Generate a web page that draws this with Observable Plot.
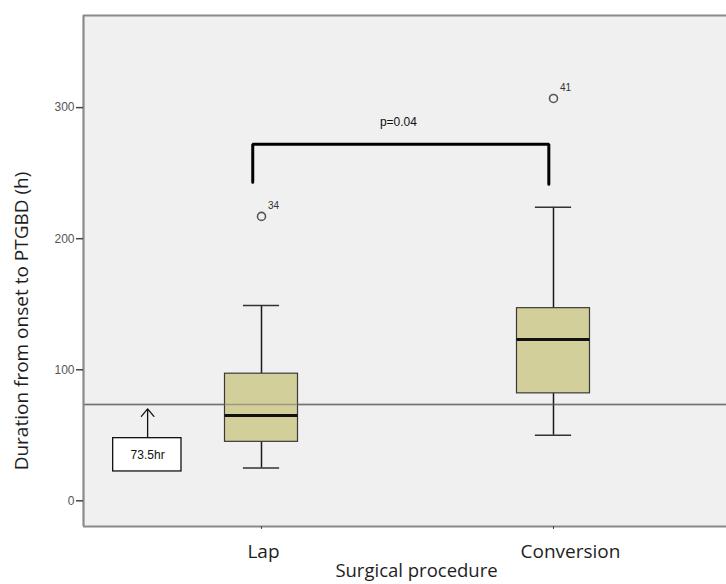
<!DOCTYPE html>
<html>
<head>
<meta charset="utf-8">
<script src="https://cdn.jsdelivr.net/npm/d3@7"></script>
<script src="https://cdn.jsdelivr.net/npm/@observablehq/plot@0.6"></script>
<style>
  html, body { margin: 0; padding: 0; background: #ffffff; }
  svg { display: block; }
</style>
</head>
<body>
<div id="chart"></div>
<script>
// ---- data ----
const categories = ["Lap", "Conversion"];
const whiskerLow = [25, 50];
const q1 = [45, 82];
const median = [65, 123];
const q3 = [97, 147];
const whiskerHigh = [149, 224];
const outlierValues = [217, 307];
const outlierIds = ["34", "41"];
const yTicks = [0, 100, 200, 300];
const thresholdValue = 73.5;
const thresholdLabel = "73.5hr";
const pLabel = "p=0.04";

// ---- table built from arrays ----
const boxes = categories.map((c, i) => ({
  cat: c, pos: i + 1,
  lo: whiskerLow[i], q1: q1[i], med: median[i], q3: q3[i], hi: whiskerHigh[i],
  out: outlierValues[i], id: outlierIds[i]
}));

const xDomain = [0.3904, 2.5925];
const yDomain = [-19.6, 370.3];
const boxHalf = 0.125;
const capHalf = 0.062;
const annX = 0.61;

const bracket = [
  {x: 0.97, y: 243}, {x: 0.97, y: 272}, {x: 1.984, y: 272}, {x: 1.984, y: 241.5}
];

const titleFont = "'Open Sans', sans-serif";
const tickFont = "'Liberation Sans', Arial, sans-serif";

const marks = [
  Plot.frame({fill: "#f0f0f0", stroke: "none"}),
  // threshold line
  Plot.ruleY([thresholdValue], {stroke: "#7a7a7a", strokeWidth: 1.6}),
  // whiskers
  Plot.ruleX(boxes, {x: "pos", y1: "lo", y2: "q1", stroke: "#1a1a1a", strokeWidth: 1.5}),
  Plot.ruleX(boxes, {x: "pos", y1: "q3", y2: "hi", stroke: "#1a1a1a", strokeWidth: 1.5}),
  Plot.ruleY(boxes, {y: "lo", x1: d => d.pos - capHalf, x2: d => d.pos + capHalf, stroke: "#333", strokeWidth: 1.6}),
  Plot.ruleY(boxes, {y: "hi", x1: d => d.pos - capHalf, x2: d => d.pos + capHalf, stroke: "#333", strokeWidth: 1.6}),
  // boxes
  Plot.rect(boxes, {x1: d => d.pos - boxHalf, x2: d => d.pos + boxHalf, y1: "q1", y2: "q3", fill: "#d3cf9a", stroke: "#3a3a3a", strokeWidth: 1.2}),
  Plot.ruleY(boxes, {y: "med", x1: d => d.pos - boxHalf, x2: d => d.pos + boxHalf, stroke: "#111", strokeWidth: 3}),
  // threshold line faintly visible over boxes
  Plot.ruleY([thresholdValue], {stroke: "#6e6e6e", strokeWidth: 1.4, strokeOpacity: 0.55}),
  // outliers
  Plot.dot(boxes, {x: "pos", y: "out", r: 4, stroke: "#555", strokeWidth: 1.6, fill: "#f0f0f0"}),
  Plot.text(boxes, {x: "pos", y: "out", text: "id", dx: 12, dy: -11, fontSize: 10, fill: "#333", fontFamily: tickFont}),
  // bracket + p value
  Plot.line(bracket, {x: "x", y: "y", stroke: "#000", strokeWidth: 3, strokeLinejoin: "miter"}),
  Plot.text([pLabel], {x: 1.469, y: 289, fontSize: 12, fill: "#111", fontFamily: tickFont}),
  // threshold annotation
  Plot.arrow([0], {x1: annX, y1: 47.8, x2: annX, y2: 70.2, stroke: "#111", strokeWidth: 1.3, headLength: 12, headAngle: 80}),
  Plot.rect([0], {x1: 0.492, x2: 0.726, y1: 22.4, y2: 47.8, fill: "#ffffff", stroke: "#111", strokeWidth: 1.3}),
  Plot.text([thresholdLabel], {x: annX, y: 35, fontSize: 12, fill: "#111", fontFamily: tickFont}),
  // frame borders (left, top, bottom)
  Plot.ruleX([xDomain[0]], {stroke: "#8a8a8a", strokeWidth: 2.2}),
  Plot.ruleY([yDomain[0], yDomain[1]], {stroke: "#8a8a8a", strokeWidth: 2.2}),
  // axes
  Plot.axisY({ticks: yTicks, tickSize: 7, tickPadding: 2, label: null, fontSize: 12, fontFamily: tickFont, color: "#555", stroke: "#444", strokeWidth: 1.5}),
  Plot.axisX({ticks: [1, 2], tickSize: 3, tickFormat: () => "", label: null, stroke: "#444"}),
  // category labels
  ...categories.map((c, i) => Plot.text([c], {
    x: () => i + 1, frameAnchor: "bottom", lineAnchor: "middle", dy: 25, dx: i === 0 ? 2 : 17,
    fontSize: 19, fontFamily: titleFont, fill: "#1e1e1e"
  })),
  // axis titles
  Plot.text(["Surgical procedure"], {frameAnchor: "bottom", lineAnchor: "middle", textAnchor: "middle", dx: 11.5, dy: 44.5, fontSize: 18.5, fontFamily: titleFont, fill: "#1e1e1e"}),
  Plot.text(["Duration from onset to PTGBD (h)"], {frameAnchor: "left", textAnchor: "middle", lineAnchor: "middle", dx: -62, dy: 50, rotate: -90, fontSize: 19, fontFamily: titleFont, fill: "#1e1e1e"})
];

const chart = Plot.plot({
  width: 726,
  height: 584,
  marginLeft: 83,
  marginRight: 0,
  marginTop: 15,
  marginBottom: 58,
  style: {background: "#ffffff", overflow: "visible"},
  x: {type: "linear", domain: xDomain, axis: null},
  y: {domain: yDomain, axis: null},
  marks
});
document.getElementById("chart").appendChild(chart);
</script>
</body>
</html>
